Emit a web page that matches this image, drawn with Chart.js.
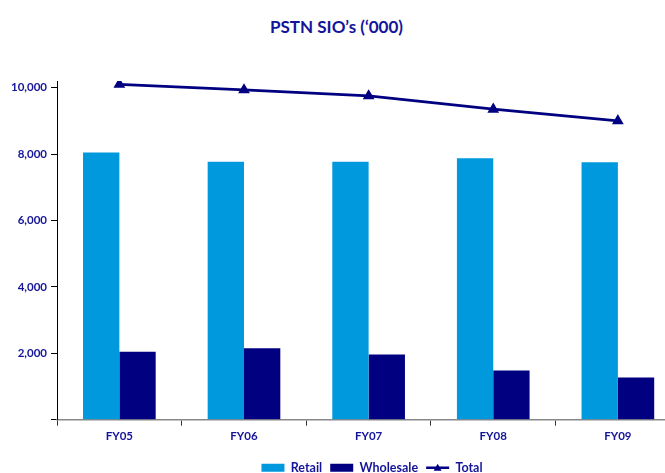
<!DOCTYPE html>
<html>
<head>
<meta charset="utf-8">
<script src="https://cdn.jsdelivr.net/npm/chart.js@4"></script>
<style>
  html, body { margin: 0; padding: 0; background: #fff; overflow: hidden; width: 665px; height: 473px; }
  #title { position: absolute; left: 4px; width: 665px; top: 16px; text-align: center;
           font: bold 17px Lato, sans-serif; color: #14149a; }
  #wrap { position: absolute; left: 0; top: 0; width: 687px; height: 486px; }
</style>
</head>
<body>
<div id="title">PSTN SIO’s (‘000)</div>
<div id="wrap"><canvas id="c"></canvas></div>
<script>
// Datos (miles de líneas)
const categories = ['FY05', 'FY06', 'FY07', 'FY08', 'FY09'];
const retail     = [8050, 7770, 7770, 7870, 7750];
const wholesale  = [2050, 2150, 1960, 1480, 1270];
const total      = [10100, 9930, 9750, 9350, 9000];
const yTicks     = [0, 2000, 4000, 6000, 8000, 10000];

const navy  = '#000080';
const azul  = '#0099dd';
const texto = '#14149a';
const font  = { family: 'Lato', size: 11.5, weight: 'bold' };
const LEGEND_SHIFT = 25;

// Desplaza la leyenda a la derecha y dibuja el triángulo de "Total"
const legendTweak = {
  id: 'legendTweak',
  afterLayout(chart) {
    const lg = chart.legend;
    if (!lg || lg._tweaked) return;
    const baseDraw = Object.getPrototypeOf(lg).draw;
    lg.draw = function (area) {
      const ctx = this.ctx;
      ctx.save();
      ctx.translate(LEGEND_SHIFT, 0);
      baseDraw.call(this, area);
      const box = this.legendHitBoxes && this.legendHitBoxes[2];
      if (box) {
        const cx = box.left + 23 / 2;
        const cy = box.top + box.height / 2;
        ctx.fillStyle = navy;
        ctx.beginPath();
        ctx.moveTo(cx, cy - 4);
        ctx.lineTo(cx + 4, cy + 3);
        ctx.lineTo(cx - 4, cy + 3);
        ctx.closePath();
        ctx.fill();
      }
      ctx.restore();
    };
    lg._tweaked = true;
  },
};

new Chart(document.getElementById('c'), {
  type: 'bar',
  data: {
    labels: categories,
    datasets: [
      { label: 'Retail', data: retail, backgroundColor: azul, order: 2 },
      { label: 'Wholesale', data: wholesale, backgroundColor: navy, order: 2 },
      {
        type: 'line', label: 'Total', data: total, order: 1,
        borderColor: navy, backgroundColor: navy, borderWidth: 2.8,
        pointStyle: 'triangle', pointRadius: 4, pointBackgroundColor: navy,
        tension: 0,
      },
    ],
  },
  options: {
    responsive: true,
    maintainAspectRatio: false,
    animation: false,
    categoryPercentage: 0.583,
    barPercentage: 1,
    layout: { padding: { left: 7, right: 0, top: 81, bottom: 2 } },
    plugins: {
      tooltip: { enabled: false },
      legend: {
        position: 'bottom',
        labels: {
          color: texto,
          font: { family: 'Lato', size: 12.5, weight: 'bold' },
          usePointStyle: true,
          pointStyleWidth: 23,
          boxHeight: 8,
          padding: 8,
          generateLabels(chart) {
            return chart.data.datasets.map((ds, i) => ({
              text: ds.label,
              fillStyle: ds.backgroundColor,
              strokeStyle: ds.type === 'line' ? navy : ds.backgroundColor,
              lineWidth: ds.type === 'line' ? 2.5 : 0,
              pointStyle: ds.type === 'line' ? 'line' : 'rect',
              fontColor: texto,
              datasetIndex: i,
            }));
          },
        },
      },
    },
    scales: {
      x: {
        afterFit(axis) { axis.height += 6; },
        grid: { display: true, drawOnChartArea: false, offset: true, color: '#333', tickLength: 6 },
        border: { color: '#888', width: 1.5 },
        ticks: { color: texto, font, padding: 4 },
      },
      y: {
        min: 0,
        max: 10200,
        afterBuildTicks(axis) { axis.ticks = yTicks.map(v => ({ value: v })); },
        grid: { drawOnChartArea: false, color: '#000', tickLength: 6 },
        border: { color: '#000', width: 1 },
        ticks: {
          color: texto, font, padding: 4,
          callback: v => (v === 0 ? '' : v.toLocaleString('en-US')),
        },
      },
    },
  },
  plugins: [legendTweak],
});
</script>
</body>
</html>
